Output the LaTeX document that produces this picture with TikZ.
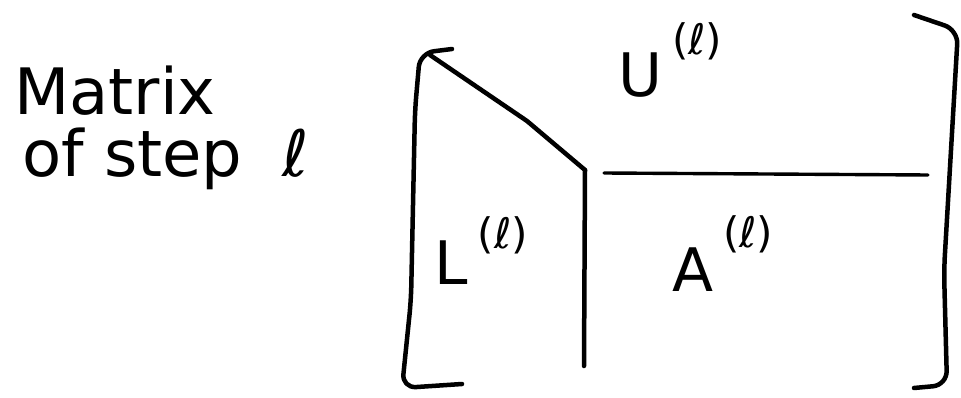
\documentclass[tikz,border=0pt]{standalone}
\usepackage{fontspec}
\setmainfont{DejaVu Sans}
\newcommand{\supl}[1]{\hspace{10pt}\raisebox{#1}{\fontsize{42}{44}\selectfont(ℓ)}}
\begin{document}
\begin{tikzpicture}[x=1pt,y=-1pt,
  stroke/.style={line width=4.5pt,line cap=round,line join=round},
  thinstroke/.style={line width=3.4pt,line cap=round,line join=round},
  title/.style={anchor=base west,font=\fontsize{64}{70}\selectfont,inner sep=0pt},
  blocklabel/.style={anchor=base west,font=\fontsize{60}{62}\selectfont,inner sep=0pt}]
\useasboundingbox[fill=white] (0,0) rectangle (961,398);
% title text
\node[title] (t1) at (14,115) {Matrix};
\node[title] (t2) at (22,177) {of step\hspace{40pt}ℓ};
% brackets
\draw[stroke,rounded corners=14pt] (452,49) -- (420,53) -- (415,110) -- (411,300) -- (402,388) -- (462,384);
\draw[stroke,rounded corners=14pt] (914,15) -- (958,30) -- (944,270) -- (947,385) -- (914,388);
% block partition
\coordinate (tl) at (430,55);
\coordinate (piv) at (585,170);
\coordinate (vb) at (584,366);
\coordinate (hs) at (604,173);
\coordinate (he) at (928,175);
\draw[stroke] (tl) -- (527,121) -- (piv);
\draw[stroke] (piv) -- (vb);
\draw[thinstroke] (hs) -- (he);
% labels
\node[blocklabel] (U) at (618,97) {U\supl{42pt}};
\node[blocklabel] (L) at (434,284) {L\supl{36pt}};
\node[blocklabel] (A) at (672,291) {A\supl{44pt}};
\end{tikzpicture}
\end{document}
